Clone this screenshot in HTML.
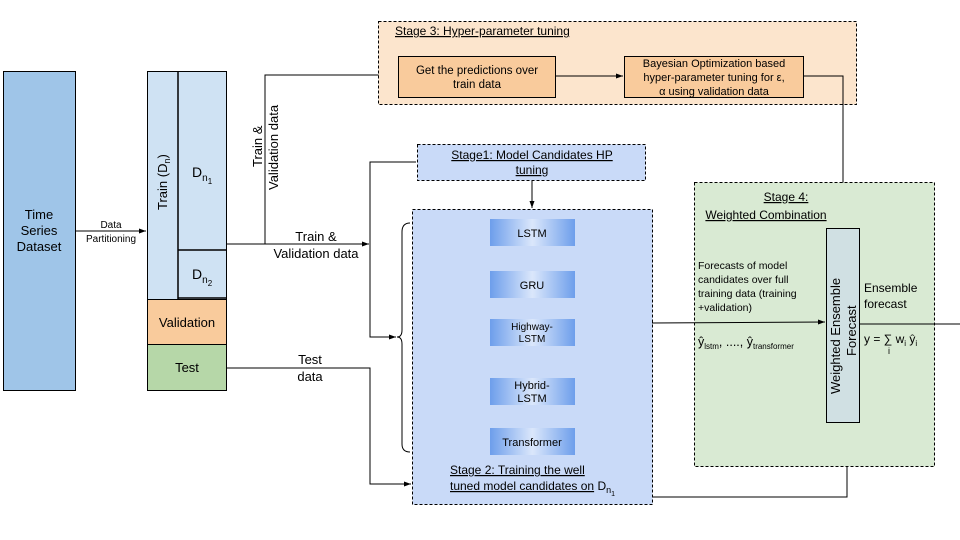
<!DOCTYPE html>
<html><head><meta charset="utf-8"><style>
html,body{margin:0;padding:0;background:#fff;}
svg{display:block;font-family:"Liberation Sans",sans-serif;}
</style></head><body>
<svg width="960" height="540" viewBox="0 0 960 540" xmlns="http://www.w3.org/2000/svg">
<defs>
<marker id="a" markerWidth="8" markerHeight="8" refX="7" refY="4" orient="auto" markerUnits="userSpaceOnUse"><path d="M0,1.5 L7,4 L0,6.5 Z" fill="#000"/></marker>
<linearGradient id="g" x1="0" y1="0" x2="1" y2="0"><stop offset="0" stop-color="#6d9eeb"/><stop offset="0.5" stop-color="#dbe7fb"/><stop offset="1" stop-color="#6d9eeb"/></linearGradient>
</defs>
<rect x="3.5" y="71.5" width="72" height="319" fill="#9fc5e8" stroke="#000"/>
<text x="39" y="219" font-size="13" text-anchor="middle">Time</text>
<text x="39" y="235" font-size="13" text-anchor="middle">Series</text>
<text x="39" y="251" font-size="13" text-anchor="middle">Dataset</text>
<line x1="75" y1="231" x2="146" y2="231" stroke="#000" marker-end="url(#a)"/>
<text x="111" y="228" font-size="10" text-anchor="middle">Data</text>
<text x="111" y="242" font-size="10" text-anchor="middle">Partitioning</text>

<rect x="147.5" y="71.5" width="79" height="228" fill="#cfe2f3" stroke="#000"/>
<line x1="178" y1="71" x2="178" y2="299" stroke="#000" stroke-width="1.5"/>
<line x1="178" y1="250" x2="227" y2="250" stroke="#000" stroke-width="1.5"/>
<line x1="178" y1="298" x2="227" y2="298" stroke="#000" stroke-width="1.5"/>
<text transform="translate(167,210) rotate(-90)" font-size="13">Train (D<tspan font-size="9" dy="3">n</tspan><tspan dy="-3">)</tspan></text>
<text x="192" y="177" font-size="14">D<tspan font-size="10" dy="4">n</tspan><tspan font-size="8" dy="3">1</tspan></text>
<text x="192" y="279" font-size="14">D<tspan font-size="10" dy="4">n</tspan><tspan font-size="8" dy="3">2</tspan></text>
<rect x="147.5" y="299.5" width="79" height="45" fill="#f9cb9c" stroke="#000"/>
<text x="187" y="327" font-size="13" text-anchor="middle">Validation</text>
<rect x="147.5" y="344.5" width="79" height="46" fill="#b6d7a8" stroke="#000"/>
<text x="187" y="372" font-size="13" text-anchor="middle">Test</text>

<polyline points="227,244 369,244" fill="none" stroke="#000" marker-end="url(#a)"/>
<polyline points="265,244 265,75 397,75" fill="none" stroke="#000" marker-end="url(#a)"/>
<text transform="translate(262,167) rotate(-90)" font-size="13">Train &amp;</text>
<text transform="translate(278,190) rotate(-90)" font-size="13">Validation data</text>
<text x="316" y="241" font-size="13" text-anchor="middle">Train &amp;</text>
<text x="316" y="258" font-size="13" text-anchor="middle">Validation data</text>
<polyline points="416,162 370,162 370,337 396,337" fill="none" stroke="#000" marker-end="url(#a)"/>
<polyline points="227,368 370,368 370,484 411,484" fill="none" stroke="#000" marker-end="url(#a)"/>
<text x="310" y="364" font-size="13" text-anchor="middle">Test</text>
<text x="310" y="381" font-size="13" text-anchor="middle">data</text>

<rect x="378.5" y="21.5" width="478" height="83" fill="#fce5cd" stroke="#000" stroke-dasharray="3,2"/>
<text x="395" y="35" font-size="12" text-decoration="underline">Stage 3: Hyper-parameter tuning</text>
<rect x="398.5" y="56.5" width="157" height="41" fill="#f9cb9c" stroke="#000"/>
<text x="477" y="74" font-size="11.5" text-anchor="middle">Get the predictions over</text>
<text x="477" y="88" font-size="11.5" text-anchor="middle">train data</text>
<line x1="555" y1="76" x2="623" y2="76" stroke="#000" marker-end="url(#a)"/>
<rect x="624.5" y="56.5" width="179" height="41" fill="#f9cb9c" stroke="#000"/>
<text x="714" y="67" font-size="11" text-anchor="middle">Bayesian Optimization based</text>
<text x="714" y="81" font-size="11" text-anchor="middle">hyper-parameter tuning for ε,</text>
<text x="714" y="95" font-size="11" text-anchor="middle">α using validation data</text>
<polyline points="803,76 843,76 843,227" fill="none" stroke="#000" marker-end="url(#a)"/>

<rect x="417.5" y="144.5" width="228" height="36" fill="#c9daf8" stroke="#000" stroke-dasharray="3,2"/>
<text x="532" y="159" font-size="12" text-anchor="middle" text-decoration="underline">Stage1: Model Candidates HP</text>
<text x="532" y="174" font-size="12" text-anchor="middle" text-decoration="underline">tuning</text>
<line x1="532" y1="180" x2="532" y2="208" stroke="#000" marker-end="url(#a)"/>

<rect x="412.5" y="209.5" width="240" height="295" fill="#c9daf8" stroke="#000" stroke-dasharray="3,2"/>
<path d="M410,223 Q402,223 402,232 L402,330 Q402,337 397,337 Q402,337 402,344 L402,444 Q402,452 410,452" fill="none" stroke="#000"/>
<rect x="490" y="219" width="85" height="27" fill="url(#g)"/>
<text x="532" y="237" font-size="11" text-anchor="middle">LSTM</text>
<rect x="490" y="271" width="85" height="27" fill="url(#g)"/>
<text x="532" y="289" font-size="11" text-anchor="middle">GRU</text>
<rect x="490" y="319" width="85" height="27" fill="url(#g)"/>
<text x="532" y="330" font-size="10" text-anchor="middle">Highway-</text>
<text x="532" y="342" font-size="10" text-anchor="middle">LSTM</text>
<rect x="490" y="378" width="85" height="27" fill="url(#g)"/>
<text x="532" y="389" font-size="11" text-anchor="middle">Hybrid-</text>
<text x="532" y="402" font-size="11" text-anchor="middle">LSTM</text>
<rect x="490" y="428" width="85" height="27" fill="url(#g)"/>
<text x="532" y="446" font-size="11" text-anchor="middle">Transformer</text>
<text x="450" y="474" font-size="12" text-decoration="underline">Stage 2: Training the well</text>
<text x="450" y="490" font-size="12"><tspan text-decoration="underline">tuned model candidates on</tspan> D<tspan font-size="9" dy="3">n</tspan><tspan font-size="7" dy="3">1</tspan></text>
<polyline points="652,497 847,497 847,423" fill="none" stroke="#000" marker-end="url(#a)"/>

<rect x="694.5" y="182.5" width="240" height="284" fill="#d9ead3" stroke="#000" stroke-dasharray="3,2"/>
<text x="786" y="201" font-size="12" text-anchor="middle" text-decoration="underline">Stage 4:</text>
<text x="766" y="219" font-size="12" text-anchor="middle" text-decoration="underline">Weighted Combination</text>
<text x="698" y="269" font-size="10.5">Forecasts of model</text>
<text x="698" y="283" font-size="10.5">candidates over full</text>
<text x="698" y="297" font-size="10.5">training data (training</text>
<text x="698" y="311" font-size="10.5">+validation)</text>
<line x1="652" y1="323" x2="825" y2="322" stroke="#000" marker-end="url(#a)"/>
<text x="698" y="346" font-size="12.5">ŷ<tspan font-size="8" dy="3">lstm</tspan><tspan dy="-3">, ....,  ŷ</tspan><tspan font-size="8" dy="3">transformer</tspan></text>
<rect x="826.5" y="228.5" width="33" height="194" fill="#d0e0e3" stroke="#000"/>
<text transform="translate(840,394) rotate(-90)" font-size="13">Weighted Ensemble</text>
<text transform="translate(856,356) rotate(-90)" font-size="13">Forecast</text>
<line x1="860" y1="324" x2="960" y2="324" stroke="#000"/>
<text x="864" y="292" font-size="12">Ensemble</text>
<text x="864" y="308" font-size="12">forecast</text>
<text x="864" y="343" font-size="12">y = ∑ w<tspan font-size="8" dy="3">i</tspan><tspan dy="-3"> ŷ</tspan><tspan font-size="8" dy="3">i</tspan></text>
<text x="888" y="354" font-size="9">i</text>
</svg>
</body></html>
